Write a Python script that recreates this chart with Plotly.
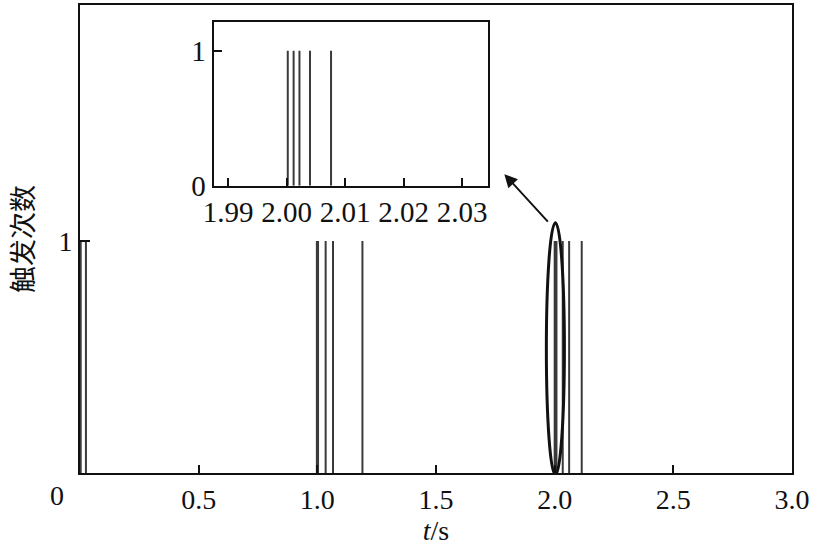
import plotly.graph_objects as go

# spike times (s) in main chart, each with count 1
spike_times = [0.003, 0.025, 0.998, 1.003, 1.035, 1.066, 1.19,
               2.0002, 2.0012, 2.0022, 2.0040, 2.0076, 2.034, 2.061, 2.114]
spike_counts = [1] * len(spike_times)

# inset (zoom around 2.00 s)
inset_times = [2.0002, 2.0012, 2.0022, 2.0040, 2.0076]
inset_counts = [1] * len(inset_times)

x_ticks = [0.5, 1.0, 1.5, 2.0, 2.5, 3.0]
x_ticklabels = ["0.5", "1.0", "1.5", "2.0", "2.5", "3.0"]
inset_ticks = [1.99, 2.00, 2.01, 2.02, 2.03]
inset_ticklabels = ["1.99", "2.00", "2.01", "2.02", "2.03"]


def stems(ts, cs):
    xs, ys = [], []
    for t, c in zip(ts, cs):
        xs += [t, t, None]
        ys += [0, c, None]
    return xs, ys


FONT = "Liberation Serif, Times New Roman, serif"
CJK = "Noto Sans CJK SC"
LINE = "#3a3a3a"
FS = 28
FS_IN = 29

fig = go.Figure()
mx, my = stems(spike_times, spike_counts)
fig.add_trace(go.Scatter(x=mx, y=my, mode="lines", line=dict(color=LINE, width=2),
                         showlegend=False, hoverinfo="skip"))
ix, iy = stems(inset_times, inset_counts)
fig.add_trace(go.Scatter(x=ix, y=iy, mode="lines", line=dict(color=LINE, width=2),
                         showlegend=False, hoverinfo="skip", xaxis="x2", yaxis="y2"))

fig.update_layout(
    width=813, height=550,
    margin=dict(l=80, r=20, t=3, b=77),
    paper_bgcolor="white", plot_bgcolor="white",
    font=dict(family=FONT, size=FS, color="#111"),
    xaxis=dict(range=[0, 3.0], tickvals=x_ticks, ticktext=x_ticklabels,
               ticks="inside", ticklen=8, tickwidth=2, tickcolor="#111",
               showline=True, linecolor="#111", linewidth=2, mirror=True,
               showgrid=False, zeroline=False, tickfont=dict(family=FONT, size=FS),
               title=dict(text="<i>t</i>/s", font=dict(family=FONT, size=FS), standoff=6)),
    yaxis=dict(range=[0, 2.017], tickvals=[1], ticktext=["1"],
               ticks="inside", ticklen=10, tickwidth=2, tickcolor="#111",
               showline=True, linecolor="#111", linewidth=2, mirror=True,
               showgrid=False, zeroline=False, tickfont=dict(family=FONT, size=FS)),
    xaxis2=dict(domain=[0.1875, 0.5727], anchor="y2", range=[1.9875, 2.0344],
                tickvals=inset_ticks, ticktext=inset_ticklabels,
                ticks="inside", ticklen=8, tickwidth=2, tickcolor="#111",
                showline=True, linecolor="#111", linewidth=2, mirror=True,
                showgrid=False, zeroline=False, tickfont=dict(family=FONT, size=FS_IN)),
    yaxis2=dict(domain=[0.614, 0.964], anchor="x2", range=[0, 1.214],
                tickvals=[0, 1], ticktext=["0", "1"],
                ticks="inside", ticklen=8, tickwidth=2, tickcolor="#111",
                showline=True, linecolor="#111", linewidth=2, mirror=True,
                showgrid=False, zeroline=False, tickfont=dict(family=FONT, size=FS_IN)),
)

# y-axis title
fig.add_annotation(x=-0.083, y=0.5, xref="paper", yref="paper", text="触发次数",
                   textangle=-90, showarrow=False, xanchor="center", yanchor="middle",
                   font=dict(family=CJK, size=27, color="#111"))

# origin label "0" at the corner
fig.add_annotation(x=0, y=0, xref="x", yref="y", text="0", showarrow=False,
                   xshift=-23, yshift=-22, font=dict(family=FONT, size=FS, color="#111"))

# ellipse around the 2.00 s cluster
fig.add_shape(type="circle", xref="x", yref="y", x0=1.965, x1=2.041, y0=-0.008, y1=1.079,
              line=dict(color="#111", width=3))

# arrow to the inset
fig.add_annotation(x=1.788, y=1.288, ax=1.977, ay=1.077, xref="x", yref="y",
                   axref="x", ayref="y", text="", showarrow=True,
                   arrowhead=2, arrowsize=1.3, arrowwidth=2, arrowcolor="#111")

fig.write_html("out.html", config={"displayModeBar": False},
               post_script="document.body.style.margin='0';")
